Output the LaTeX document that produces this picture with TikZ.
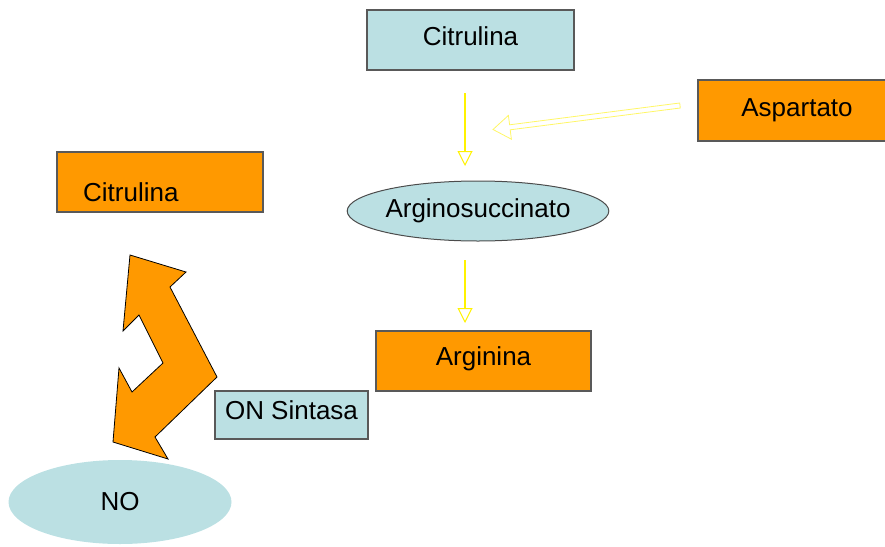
\documentclass[tikz,border=0pt]{standalone}
\usepackage{fontspec}
\setmainfont{Liberation Sans}
\usetikzlibrary{arrows.meta,shapes.geometric}
\definecolor{lblue}{HTML}{BBE0E3}
\definecolor{orng}{HTML}{FF9900}
\tikzset{
  txt/.style={font=\fontsize{26}{31}\selectfont, inner sep=0pt},
  bluebox/.style={txt, rectangle, fill=lblue, draw=black!65, line width=1.2pt},
  orangebox/.style={txt, rectangle, fill=orng, draw=black!65, line width=1.2pt},
  yarrow/.style={yellow, line width=2pt, -{Triangle[open, length=15pt, width=15pt, line width=1pt]}}
}
\begin{document}
\begin{tikzpicture}[x=1pt,y=-1pt]
\useasboundingbox (0,0) rectangle (885,546);

% boxes and ellipses
\node[bluebox, minimum width=207, minimum height=60, text depth=8pt] (citr) at (470.5,40) {Citrulina};
\node[orangebox, minimum width=198, minimum height=61] (asp) at (797,110.5) {Aspartato};
\node[txt, ellipse, fill=lblue, draw=black!70, line width=1pt, minimum width=260, minimum height=60] (argsuc) at (478,211) {Arginosuccinato};
\node[orangebox, minimum width=215, minimum height=60, text depth=9pt] (arg) at (483.5,361) {Arginina};
\node[orangebox, minimum width=206, minimum height=60] (citrl) at (160,182) {};
\node[txt, anchor=west] (citrltxt) at (83,192) {Citrulina};
\node[bluebox, minimum width=153, minimum height=48, text depth=10pt] (ons) at (291.5,415) {ON Sintasa};
\node[txt, ellipse, fill=lblue, minimum width=223, minimum height=84] (no) at (120,502) {NO};

% yellow arrows
\coordinate (a1) at (465,93);
\coordinate (a2) at (465,166);
\coordinate (b1) at (465,260);
\coordinate (b2) at (465,323);
\draw[yarrow] (a1) -- (a2);
\draw[yarrow] (b1) -- (b2);

% block arrow from Aspartato
\draw[yellow!60, fill=white, line width=0.8pt] (493,129.5) -- (511.4,139.2) -- (510.2,129.8) -- (680.3,108)
  -- (679.7,103) -- (509.6,124.8) -- (508.4,115.4) -- cycle;

% zig-zag double arrow
\draw[fill=orng, draw=black, line width=0.8pt, line join=miter] (130,255) -- (186,272) -- (170,287) -- (217,377)
  -- (155,437) -- (168,459) -- (113,442) -- (119,368) -- (132,392) -- (163,363)
  -- (139,315) -- (123,331) -- cycle;

\end{tikzpicture}
\end{document}
